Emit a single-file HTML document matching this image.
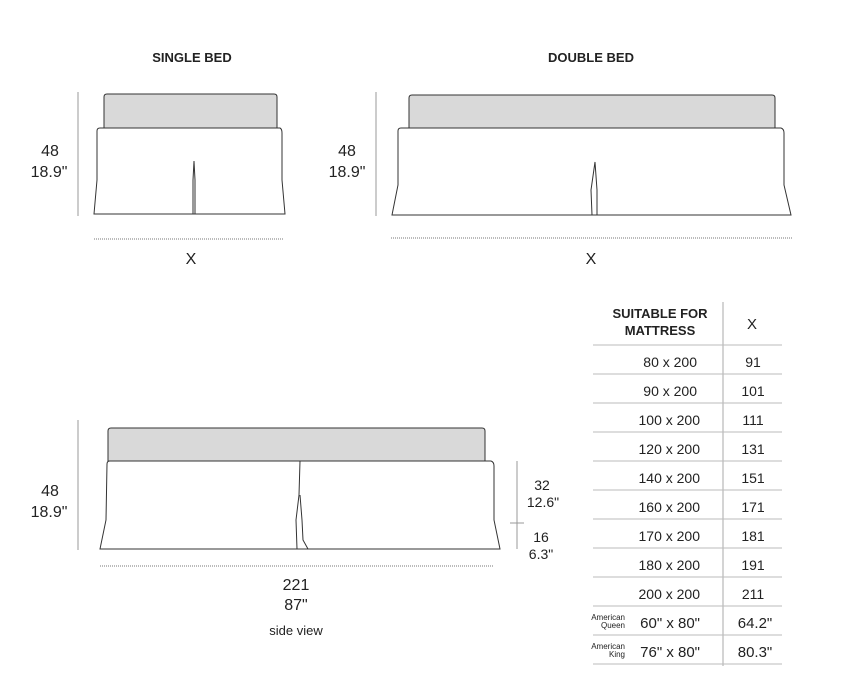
<!DOCTYPE html>
<html><head><meta charset="utf-8"><style>
html,body{margin:0;padding:0;background:#fff;}
svg{display:block;}
text{font-family:"Liberation Sans",sans-serif;fill:#222;}
</style></head><body>
<svg width="842" height="689" viewBox="0 0 842 689" xmlns="http://www.w3.org/2000/svg">
<g font-size="13" font-weight="bold" text-anchor="middle">
<text x="192" y="62">SINGLE BED</text>
<text x="591" y="62">DOUBLE BED</text>
</g>
<!-- single bed -->
<line x1="78" y1="92" x2="78" y2="216" stroke="#999" stroke-width="1"/>
<path d="M104,128 L104,97 Q104,94 107,94 L274,94 Q277,94 277,97 L277,128 Z" fill="#d9d9d9" stroke="#333" stroke-width="1"/>
<path d="M97,131 Q97,128 100,128 L280,128 Q282,129 282,133 L282,180 L285,214 L94,214 L97,180 Z" fill="#fff" stroke="#333" stroke-width="1"/>
<path d="M193,214 L193,180 L194,161 L195,180 L195,214" fill="none" stroke="#333" stroke-width="1"/>
<line x1="94" y1="239" x2="283" y2="239" stroke="#777" stroke-dasharray="1,1"/>
<text x="191" y="264" font-size="16" text-anchor="middle">X</text>
<g font-size="16" text-anchor="middle"><text x="50" y="156">48</text><text x="49" y="177">18.9"</text></g>
<!-- double bed -->
<line x1="376" y1="92" x2="376" y2="216" stroke="#999" stroke-width="1"/>
<path d="M409,128 L409,98 Q409,95 412,95 L772,95 Q775,95 775,98 L775,128 Z" fill="#d9d9d9" stroke="#333" stroke-width="1"/>
<path d="M398,131 Q398,128 401,128 L781,128 Q784,129 784,133 L784,185 L791,215 L392,215 L398,185 Z" fill="#fff" stroke="#333" stroke-width="1"/>
<path d="M592,215 L591,190 L595,162 L597,190 L597,215" fill="none" stroke="#333" stroke-width="1"/>
<line x1="391" y1="238" x2="792" y2="238" stroke="#777" stroke-dasharray="1,1"/>
<text x="591" y="264" font-size="16" text-anchor="middle">X</text>
<g font-size="16" text-anchor="middle"><text x="347" y="156">48</text><text x="347" y="177">18.9"</text></g>
<!-- side view -->
<line x1="78" y1="420" x2="78" y2="550" stroke="#999" stroke-width="1"/>
<path d="M108,461 L108,431 Q108,428 111,428 L482,428 Q485,428 485,431 L485,461 Z" fill="#d9d9d9" stroke="#333" stroke-width="1"/>
<path d="M107,464 Q107,461 110,461 L491,461 Q494,462 494,466 L494,520 L500,549 L100,549 L106,520 Z" fill="#fff" stroke="#333" stroke-width="1"/>
<path d="M300,461 L299,495 L296,520 L297,549 M300,495 L302,520 L303,540 L308,549" fill="none" stroke="#333" stroke-width="1"/>
<line x1="100" y1="566" x2="494" y2="566" stroke="#777" stroke-dasharray="1,1"/>
<line x1="517" y1="461" x2="517" y2="549" stroke="#999"/>
<line x1="510" y1="523" x2="524" y2="523" stroke="#999"/>
<g font-size="14" text-anchor="middle"><text x="542" y="490">32</text><text x="543" y="507">12.6"</text><text x="541" y="542">16</text><text x="541" y="559">6.3"</text></g>
<g font-size="16" text-anchor="middle"><text x="50" y="496">48</text><text x="49" y="517">18.9"</text>
<text x="296" y="590">221</text><text x="296" y="610">87"</text></g>
<text x="296" y="635" font-size="13" text-anchor="middle">side view</text>
<!-- table -->
<line x1="723" y1="302" x2="723" y2="666" stroke="#aaa"/>
<g stroke="#bbb">
<line x1="593" y1="345" x2="782" y2="345"/><line x1="593" y1="374" x2="782" y2="374"/>
<line x1="593" y1="403" x2="782" y2="403"/><line x1="593" y1="432" x2="782" y2="432"/>
<line x1="593" y1="461" x2="782" y2="461"/><line x1="593" y1="490" x2="782" y2="490"/>
<line x1="593" y1="519" x2="782" y2="519"/><line x1="593" y1="548" x2="782" y2="548"/>
<line x1="593" y1="577" x2="782" y2="577"/><line x1="593" y1="606" x2="782" y2="606"/>
<line x1="593" y1="635" x2="782" y2="635"/><line x1="593" y1="664" x2="782" y2="664"/>
</g>
<g font-size="13" font-weight="bold" text-anchor="middle"><text x="660" y="318">SUITABLE FOR</text><text x="660" y="335">MATTRESS</text></g>
<text x="752" y="329" font-size="15" text-anchor="middle">X</text>
<g font-size="14" text-anchor="end">
<text x="697" y="367">80 x 200</text><text x="697" y="396">90 x 200</text><text x="700" y="425">100 x 200</text>
<text x="700" y="454">120 x 200</text><text x="700" y="483">140 x 200</text><text x="700" y="512">160 x 200</text>
<text x="700" y="541">170 x 200</text><text x="700" y="570">180 x 200</text><text x="700" y="599">200 x 200</text>
<text x="700" y="628" font-size="15">60" x 80"</text><text x="700" y="657" font-size="15">76" x 80"</text>
</g>
<g font-size="14" text-anchor="middle">
<text x="753" y="367">91</text><text x="753" y="396">101</text><text x="753" y="425">111</text>
<text x="753" y="454">131</text><text x="753" y="483">151</text><text x="753" y="512">171</text>
<text x="753" y="541">181</text><text x="753" y="570">191</text><text x="753" y="599">211</text>
<text x="755" y="628" font-size="15">64.2"</text><text x="755" y="657" font-size="15">80.3"</text>
</g>
<g font-size="8" text-anchor="end">
<text x="625" y="620">American</text><text x="625" y="628">Queen</text>
<text x="625" y="649">American</text><text x="625" y="657">King</text>
</g>
</svg>
</body></html>
